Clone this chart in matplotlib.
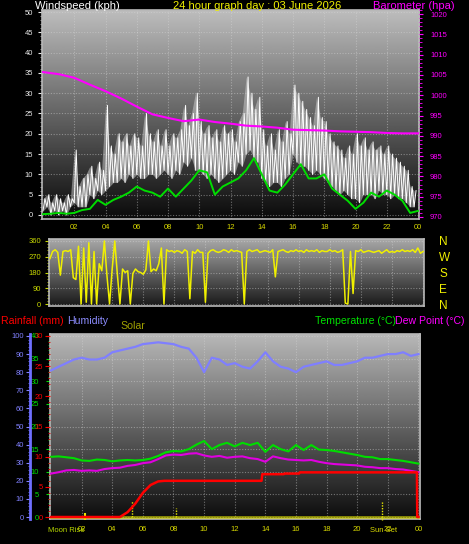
import matplotlib.pyplot as plt
import numpy as np
from matplotlib.ticker import MultipleLocator

plt.rcParams['font.family'] = ['Liberation Sans', 'DejaVu Sans']

# ---- data ----
hour_labels = ['02', '04', '06', '08', '10', '12', '14', '16', '18', '20', '22', '00']

# gust envelope, every 15 min (kph)
wind_hi = [4, 5, 3, 5, 4, 3, 5, 4, 16, 7, 9, 10, 12, 9, 13, 11,
           27, 17, 15, 20, 18, 20, 17, 20, 19, 17, 25, 20, 18, 21, 17, 21,
           17, 20, 19, 21, 27, 22, 25, 30, 23, 20, 22, 19, 21, 18, 22, 20,
           21, 18, 23, 25, 34, 30, 26, 29, 21, 17, 20, 16, 21, 18, 23, 20,
           32, 30, 28, 26, 24, 22, 29, 24, 23, 20, 18, 17, 16, 14, 17, 15,
           20, 17, 19, 16, 18, 16, 17, 15, 17, 15, 14, 13, 12, 11, 7, 6]
wind_lo = [1, 2, 0, 1, 0, 1, 0, 2, 3, 2, 2, 2, 5, 4, 6, 5,
           6, 7, 8, 8, 9, 8, 10, 9, 10, 9, 9, 10, 10, 9, 10, 11,
           10, 9, 11, 10, 13, 12, 14, 11, 11, 10, 9, 10, 9, 8, 9, 10,
           11, 10, 13, 12, 15, 16, 14, 13, 9, 8, 7, 8, 8, 7, 9, 10,
           15, 13, 12, 12, 11, 10, 11, 10, 9, 8, 7, 6, 5, 6, 5, 4,
           4, 3, 5, 5, 5, 4, 6, 5, 5, 4, 5, 4, 4, 3, 2, 2]
# average speed, every 30 min
wind_avg = [0.2, 0.3, 0.5, 0.3, 0.5, 1.2, 1.5, 3.7, 2.5, 3.7, 4.5, 5.5, 7.0,
            6.0, 5.5, 4.5, 6.5, 4.5, 6.5, 8.5, 11.0, 10.5, 5.0, 7.0, 8.0,
            9.0, 11.0, 14.0, 10.0, 6.0, 5.5, 7.5, 10.0, 12.5, 9.0, 9.0, 10.0,
            6.5, 5.0, 3.5, 1.5, 3.0, 5.5, 4.5, 6.0, 5.0, 3.5, 0.5, 1.0]
# barometer, hourly (hPa)
baro = [1005.7, 1005.2, 1004.3, 1002.6, 1001.0, 999.2, 997.2, 995.3, 994.4,
        993.6, 994.0, 993.4, 993.0, 992.5, 992.3, 992.0, 991.5, 991.4,
        991.3, 991.1, 991.0, 990.9, 990.7, 990.6, 990.6]
# wind direction, every 10 min (deg)
wind_dir = [260, 300, 310, 295, 165, 300,
            305, 300, 310, 150, 140, 330,
            0, 320, 10, 350, 0, 300,
            0, 230, 190, 360, 160, 0,
            200, 360, 170, 0, 200, 180,
            190, 0, 175, 200, 185, 180,
            170, 195, 360, 185, 200, 190,
            230, 320, 0, 310, 300, 305,
            295, 305, 300, 290, 310, 300,
            30, 300, 290, 310, 295, 295,
            10, 290, 305, 310, 300, 295,
            300, 310, 305, 295, 310, 300,
            305, 300, 295, 0, 300, 310,
            300, 305, 310, 295, 300, 305,
            300, 295, 310, 155, 300, 305,
            310, 300, 295, 305, 300, 310,
            300, 305, 295, 310, 300, 305,
            300, 310, 295, 305, 300, 300,
            310, 300, 305, 295, 300, 310,
            5, 0, 300, 60, 305, 300,
            310, 295, 300, 305, 300, 295,
            300, 305, 290, 300, 310, 295,
            300, 295, 305, 300, 310, 300,
            305, 300, 310, 295, 320, 290,
            300]
# humidity (%), temperature and dew point (C), every 30 min
humidity = [81, 83, 85, 87, 88, 87, 87, 88, 91, 92, 93, 94, 95.5, 96, 96.5,
            96, 95.5, 94, 93, 88, 80, 88, 87, 84, 85, 83, 82, 86, 91, 86, 83,
            82, 80, 83, 84, 85, 86, 84, 84, 85, 86, 88, 88, 89, 90, 90, 91,
            89, 90]
temperature = [13.3, 13.4, 13.2, 13.0, 12.5, 12.4, 12.7, 12.6, 12.3, 12.5,
               12.6, 12.5, 12.6, 12.9, 13.5, 14.3, 14.6, 14.5, 15.0, 16.0,
               16.8, 15.0, 15.9, 16.4, 15.6, 16.4, 15.9, 16.4, 14.4, 15.9,
               15.0, 14.5, 15.9, 14.8, 15.9, 14.9, 14.8, 14.6, 14.3, 14.0,
               13.7, 13.3, 13.2, 12.8, 12.8, 12.6, 12.4, 12.1, 11.8]
dew_point = [9.6, 9.9, 10.3, 10.4, 10.2, 10.3, 10.2, 10.6, 10.8, 10.9, 11.3,
             11.5, 11.9, 12.1, 12.8, 13.6, 13.8, 13.7, 14.0, 14.1, 13.6, 13.3,
             13.5, 13.1, 13.3, 13.4, 13.0, 12.8, 12.2, 13.4, 13.0, 12.7, 12.6,
             12.5, 12.6, 12.2, 11.9, 11.7, 11.6, 11.5, 11.4, 11.1, 11.0, 10.8,
             10.8, 10.6, 10.5, 10.2, 9.9]
# rainfall (mm), cumulative
rain_t = [0, 4.5, 5.0, 5.5, 6.0, 6.5, 7.0, 7.4, 13.75, 13.8, 15.2, 15.25,
          16.2, 16.25, 23.9, 23.92, 24.0]
rain = [0, 0, 0.8, 2.2, 4.0, 5.3, 5.9, 6.0, 6.0, 7.1, 7.1, 7.2, 7.2, 7.4,
        7.4, 0, 0]
solar = [0] * 25
moon_rise = 2.2
sun_set = 21.65
solar_marks = [5.3, 8.15]

t15 = np.arange(len(wind_hi)) * 0.25
t30 = np.arange(len(wind_avg)) * 0.5
t60 = np.arange(len(baro))
t10 = np.arange(len(wind_dir)) / 6.0

W, H = 469, 544
fig = plt.figure(figsize=(W / 100, H / 100), dpi=100, facecolor='black')

YEL = '#d8d800'
GRID = dict(color='#d8d8d8', alpha=0.45, lw=0.8, ls=(0, (1, 1.5)))


def add_px_axes(x0, y0, x1, y1):
    return fig.add_axes([x0 / W, 1 - y1 / H, (x1 - x0) / W, (y1 - y0) / H])


def paint_bg(ax, top, bottom):
    grad = np.linspace(bottom, top, 256).reshape(-1, 1)
    ax.imshow(grad, extent=[0, 1, 0, 1], transform=ax.transAxes, origin='lower',
              aspect='auto', cmap='gray', vmin=0, vmax=1, zorder=0)


def style_frame(ax):
    for s in ax.spines.values():
        s.set_color('#b8b8b8')
        s.set_linewidth(1.2)


def ftext(x, y, s, **kw):
    fig.text(x / W, 1 - y / H, s, va='center', **kw)


# ---- panel 1: wind speed + barometer ----
ax1 = add_px_axes(42, 10, 419, 219)
paint_bg(ax1, 0.74, 0.04)
zig_x = np.empty(2 * len(t15))
zig_y = np.empty(2 * len(t15))
zig_x[0::2] = t15
zig_x[1::2] = t15 + 0.125
zig_y[0::2] = wind_lo
zig_y[1::2] = wind_hi
ax1.fill_between(t15, wind_lo, wind_hi, color='#d0d0d0', alpha=0.5, lw=0, zorder=2)
ax1.plot(zig_x, zig_y, color='white', lw=0.7, zorder=3)
ax1.plot(t30, wind_avg, color='#00dd00', lw=1.4, zorder=4)
ax1.set_xlim(-0.064, 24.064)
ax1.set_ylim(-1, 50.5)
ax1.set_yticks(range(0, 51, 5))
ax1.yaxis.set_minor_locator(MultipleLocator(1))
ax1.tick_params(axis='y', colors='#e8e8e8', labelsize=5.5, length=3, pad=3.5)
ax1.tick_params(axis='y', which='minor', colors='#aaaaaa', length=1.5)
ax1.set_xticks(range(2, 25, 2))
ax1.set_xticklabels(hour_labels)
ax1.tick_params(axis='x', colors=YEL, labelsize=5.5, length=0, pad=3.5)
ax1.set_axisbelow(True)
ax1.grid(True, **GRID)
style_frame(ax1)

ax1b = ax1.twinx()
ax1b.plot(t60, baro, color='#ff00ff', lw=1.5, zorder=5)
ax1b.set_ylim(969.5, 1021)
ax1b.set_yticks(range(970, 1021, 5))
ax1b.yaxis.set_minor_locator(MultipleLocator(1))
ax1b.tick_params(axis='y', colors='#ff00ff', labelsize=5.5, length=3, pad=5)
ax1b.tick_params(axis='y', which='minor', colors='#ff00ff', length=2)
for s in ax1b.spines.values():
    s.set_visible(False)

# ---- panel 2: wind direction ----
ax2 = add_px_axes(49, 239, 424, 306)
paint_bg(ax2, 0.66, 0.1)
ax2.plot(t10, wind_dir, color='#f0f000', lw=1.1, zorder=3)
ax2.set_xlim(-0.064, 24.064)
ax2.set_ylim(-11.4, 371.4)
ax2.set_yticks([0, 90, 180, 270, 360])
ax2.yaxis.set_minor_locator(MultipleLocator(18))
ax2.tick_params(axis='y', colors='#c8d800', labelsize=5.5, length=3, pad=2.5)
ax2.tick_params(axis='y', which='minor', colors='#c8d800', length=1.5)
ax2.set_xticks(range(2, 25, 2))
ax2.tick_params(axis='x', length=0, labelbottom=False)
ax2.set_axisbelow(True)
ax2.grid(True, **GRID)
style_frame(ax2)

ax2r = ax2.twinx()
ax2r.set_ylim(ax2.get_ylim())
ax2r.set_yticks([0, 90, 180, 270, 360])
ax2r.set_yticklabels(['N', 'E', 'S', 'W', 'N'])
ax2r.tick_params(axis='y', colors='#f0f000', labelsize=8.5, length=0, pad=11)
for s in ax2r.spines.values():
    s.set_visible(False)

# ---- panel 3: temperature, dew point, humidity, rain, solar ----
ax3 = add_px_axes(50, 334, 420, 519)
paint_bg(ax3, 0.72, 0.05)
ax3.plot(t30, temperature, color='#00dd00', lw=1.5, zorder=3)
ax3.plot(t30, dew_point, color='#e000e0', lw=1.5, zorder=3)
ax3.plot(t60, solar, color='#e8e800', lw=2, alpha=0.6, zorder=6)
ax3.vlines(solar_marks, 0, [3.5, 2.0], color='#e8e800', lw=1, ls=(0, (1, 1)), zorder=6)
ax3.vlines(sun_set, -0.7, 3.5, color='#e8e800', lw=1, ls=(0, (1, 1)), zorder=6, clip_on=False)
ax3.vlines(moon_rise, -0.7, 0.9, color='#e8e800', lw=1.5, zorder=6, clip_on=False)
ax3.set_xlim(-0.065, 24.1)
ax3.set_ylim(-0.44, 40.44)
ax3.yaxis.tick_right()
ax3.set_yticks(range(0, 41, 5))
ax3.yaxis.set_minor_locator(MultipleLocator(1))
ax3.tick_params(axis='y', colors='#00e000', labelsize=5.5, length=3, pad=5)
ax3.tick_params(axis='y', which='minor', colors='#00c000', length=1.5)
ax3.set_xticks(range(2, 25, 2))
ax3.set_xticklabels(hour_labels)
ax3.tick_params(axis='x', colors=YEL, labelsize=5.5, length=0, pad=5)
ax3.set_axisbelow(True)
ax3.grid(True, **GRID)
style_frame(ax3)

ax3h = ax3.twinx()
ax3h.plot(t30, humidity, color='#7f7fff', lw=1.6, zorder=3)
ax3h.set_ylim(-1.1, 101.1)
ax3h.yaxis.tick_left()
ax3h.spines['left'].set_position(('outward', 14.4))
ax3h.spines['left'].set_color('#7070ff')
ax3h.spines['left'].set_linewidth(2)
for k in ('right', 'top', 'bottom'):
    ax3h.spines[k].set_visible(False)
ax3h.set_yticks(range(0, 101, 10))
ax3h.yaxis.set_minor_locator(MultipleLocator(2))
ax3h.tick_params(axis='y', colors='#8080ff', labelsize=5.5, length=3, pad=1.5)
ax3h.tick_params(axis='y', which='minor', colors='#7070ff', length=1.5)

ax3r = ax3.twinx()
ax3r.plot(rain_t, rain, color='#ff0000', lw=1.8, zorder=4)
ax3r.set_ylim(-0.33, 30.33)
ax3r.yaxis.tick_left()
for s in ax3r.spines.values():
    s.set_visible(False)
ax3r.set_yticks(range(0, 31, 5))
ax3r.yaxis.set_minor_locator(MultipleLocator(1))
ax3r.tick_params(axis='y', colors='#ff0000', labelsize=5.5, length=3.5, pad=1.5)
ax3r.tick_params(axis='y', which='minor', colors='#dd0000', length=1.5)

# ---- header texts ----
ftext(35, 6, 'Windspeed (kph)', color='white', fontsize=8)
ftext(173, 6, '24 hour graph day : 03 June 2026', color='#f0f000', fontsize=8)
ftext(373, 6, 'Barometer (hpa)', color='#ff00ff', fontsize=8)
ftext(1, 321, 'Rainfall (mm)', color='#ff0000', fontsize=7.6)
ftext(67, 321, 'Humidity', color='#8c8cff', fontsize=7.6)
ftext(120, 326, 'Solar', color='#a0a000', fontsize=7.6)
ftext(315, 321, 'Temperature (°C)', color='#00e000', fontsize=7.6)
ftext(395, 321, 'Dew Point (°C)', color='#ff00ff', fontsize=7.6)
ftext(48, 530, 'Moon Rise', color='#b8d800', fontsize=5.5)
ftext(384, 530, 'Sun Set', color=YEL, fontsize=5.5, ha='center')

fig.savefig('out.png', dpi=100, facecolor='black')
